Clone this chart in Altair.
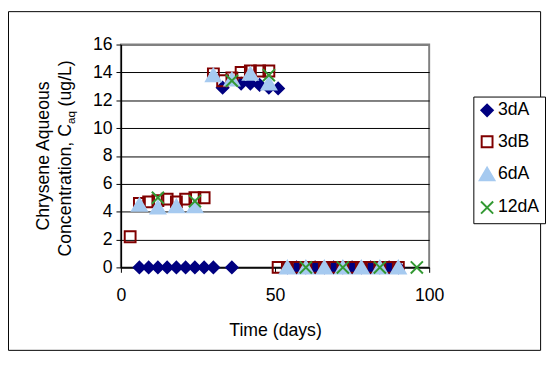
import altair as alt
import pandas as pd

FONT = "Liberation Sans"

series_names = ["3dA", "3dB", "6dA", "12dA"]

days_3dA = [6, 9, 12, 15, 18, 21, 24, 27, 30, 33, 36, 39, 42, 45, 48, 51,
            54, 57, 60, 63, 66, 69, 72, 75, 78, 81, 84, 87, 90]
conc_3dA = [0, 0, 0, 0, 0, 0, 0, 0, 0, 12.9, 0, 13.2, 13.2, 13.1, 12.9, 12.85,
            0, 0, 0, 0, 0, 0, 0, 0, 0, 0, 0, 0, 0]

days_3dB = [3, 6, 9, 12, 15, 18, 21, 24, 27, 30, 33, 36, 39, 42, 45, 48,
            51, 54, 57, 60, 63, 66, 69, 72, 75, 78, 81, 84, 87, 90]
conc_3dB = [2.2, 4.6, 4.7, 4.8, 4.9, 4.7, 4.9, 5.0, 5.0, 13.9, 13.4, 13.6, 14.0, 14.1, 14.1, 14.1,
            0, 0, 0, 0, 0, 0, 0, 0, 0, 0, 0, 0, 0, 0]

days_6dA = [6, 12, 18, 24, 30, 36, 42, 48, 54, 60, 66, 72, 78, 84, 90]
conc_6dA = [4.5, 4.3, 4.4, 4.4, 13.8, 13.5, 13.9, 13.2, 0, 0, 0, 0, 0, 0, 0]

days_12dA = [12, 24, 36, 48, 60, 72, 84, 96]
conc_12dA = [5.0, 4.75, 13.4, 13.8, 0, 0, 0, 0]

x_ticks = [0, 50, 100]
y_ticks = [0, 2, 4, 6, 8, 10, 12, 14, 16]

rows = []
for name, days, conc in [("3dA", days_3dA, conc_3dA), ("3dB", days_3dB, conc_3dB),
                         ("6dA", days_6dA, conc_6dA), ("12dA", days_12dA, conc_12dA)]:
    for d, c in zip(days, conc):
        rows.append({"series": name, "day": d, "conc": c})
df = pd.DataFrame(rows)

shapes = [
    "M0,-0.9L0.9,0L0,0.9L-0.9,0Z",
    "M-0.85,-0.85L0.85,-0.85L0.85,0.85L-0.85,0.85Z",
    "M0,-1L1.15,0.95L-1.15,0.95Z",
    "M-0.95,-0.95L0.95,0.95M0.95,-0.95L-0.95,0.95",
]
fills = ["#000080", "transparent", "#A6CAF0", "transparent"]
strokes = ["#000080", "#800000", "#A6CAF0", "#339933"]

points = alt.Chart(df).mark_point(opacity=1, strokeWidth=2, size=169).encode(
    x=alt.X("day:Q", scale=alt.Scale(domain=[0, 100], nice=False),
            axis=alt.Axis(values=x_ticks, title="Time (days)", grid=False,
                          labelFlush=False, labelPadding=15, tickSize=5,
                          titleY=69, titleBaseline="alphabetic")),
    y=alt.Y("conc:Q", scale=alt.Scale(domain=[0, 16], nice=False),
            axis=alt.Axis(values=y_ticks, title=None, grid=True, labelFlush=False,
                          labelPadding=4, tickSize=5,
                          gridColor={"condition": {"test": "datum.value >= 16", "value": "#808080"}, "value": "black"},
                          gridWidth={"condition": {"test": "datum.value >= 16", "value": 2}, "value": 1})),
    shape=alt.Shape("series:N", scale=alt.Scale(domain=series_names, range=shapes), title=None),
    fill=alt.Fill("series:N", scale=alt.Scale(domain=series_names, range=fills), title=None),
    stroke=alt.Stroke("series:N", scale=alt.Scale(domain=series_names, range=strokes), title=None),
)

one = alt.Data(values=[{}])

frame = alt.Chart(one).mark_rect(fill="transparent", stroke="black", strokeWidth=1).encode(
    x=alt.value(-114.5), x2=alt.value(427.5), y=alt.value(-33.5), y2=alt.value(311.5)
)


def vtext(text, x, y, size, align):
    return alt.Chart(one).mark_text(text=text, angle=270, align=align, baseline="alphabetic",
                                    font=FONT, fontSize=size, color="black").encode(
        x=alt.value(x), y=alt.value(y))


t1 = vtext("Chrysene Aqueous", -73, 113.5, 18, "center")
t2 = vtext("Concentration, C", -51, 81, 18, "right")
t3 = vtext("aq", -47, 81, 12, "left")
t4 = vtext("(ug/L)", -51, 63, 18, "left")

chart = alt.layer(frame, t1, t2, t3, t4, points).properties(
    width=314, height=227, padding=0, background="white"
).configure_view(
    stroke="#808080", strokeWidth=2, fill="white"
).configure_axis(
    domainColor="black", domainWidth=1.5, tickColor="black", tickWidth=1,
    labelFont=FONT, labelFontSize=18, labelColor="black",
    titleFont=FONT, titleFontSize=18, titleColor="black", titleFontWeight="normal",
).configure_legend(
    orient="none", legendX=359, legendY=53, strokeColor="black", fillColor="white",
    padding=5, rowPadding=12, labelFont=FONT, labelFontSize=18, labelColor="black",
    symbolSize=169, symbolStrokeWidth=2, labelOffset=2, cornerRadius=0,
)

chart.save("out.html", embed_options={"renderer": "svg", "actions": False})
